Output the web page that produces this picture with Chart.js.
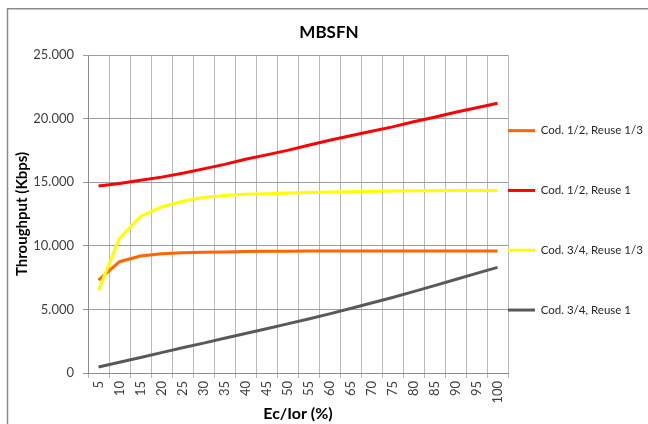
<!DOCTYPE html>
<html>
<head>
<meta charset="utf-8">
<title>MBSFN</title>
<script src="https://cdn.jsdelivr.net/npm/chart.js@4/dist/chart.umd.min.js"></script>
<style>
  html, body { margin: 0; padding: 0; background: #fff; }
  #wrap { width: 648px; height: 424px; }
</style>
</head>
<body>
<div id="wrap"><canvas id="mbsfnChart" width="648" height="424"></canvas></div>
<script>

// Ec/Ior (%) categories
var ecIor = ['5', '10', '15', '20', '25', '30', '35', '40', '45', '50',
             '55', '60', '65', '70', '75', '80', '85', '90', '95', '100'];

// throughput in Kbps
var cod12Reuse13 = [7300, 8750, 9200, 9380, 9460, 9500, 9520, 9550, 9570, 9580,
                    9590, 9590, 9600, 9600, 9600, 9600, 9600, 9600, 9600, 9600];
var cod12Reuse1 = [14700, 14900, 15150, 15400, 15700, 16050, 16400, 16800, 17150, 17500,
                   17900, 18300, 18650, 19000, 19350, 19750, 20100, 20500, 20850, 21200];
var cod34Reuse13 = [6500, 10600, 12300, 13050, 13500, 13800, 13950, 14050, 14100, 14150,
                    14200, 14220, 14240, 14260, 14300, 14320, 14330, 14340, 14350, 14350];
var cod34Reuse1 = [470, 850, 1220, 1600, 1980, 2350, 2730, 3110, 3480, 3860,
                   4250, 4650, 5070, 5500, 5940, 6400, 6870, 7350, 7830, 8300];

var seriesNames = ['Cod. 1/2, Reuse 1/3', 'Cod. 1/2, Reuse 1', 'Cod. 3/4, Reuse 1/3', 'Cod. 3/4, Reuse 1'];
var seriesColors = ['#ff6600', '#ff0000', '#ffff00', '#595959'];

var yMax = 25000;
var yStep = 5000;

var FONT = 'Lato, "Liberation Sans", sans-serif';
Chart.defaults.font.family = FONT;

function thousands(v) {
  return String(v).replace(/\B(?=(\d{3})+(?!\d))/g, '.');
}

function makeDataset(i, values) {
  return {
    label: seriesNames[i],
    data: values,
    borderColor: seriesColors[i],
    backgroundColor: seriesColors[i],
    borderWidth: 3,
    pointRadius: 0,
    pointBorderWidth: 3,
    tension: 0,
    // later series are painted on top
    order: 3 - i
  };
}

// grey frame around the whole chart
var framePlugin = {
  id: 'frame',
  beforeDraw: function(chart) {
    var ctx = chart.ctx;
    ctx.save();
    ctx.fillStyle = '#fff';
    ctx.fillRect(0, 0, chart.width, chart.height);
    ctx.strokeStyle = '#8a8a8a';
    ctx.lineWidth = 1.5;
    ctx.beginPath();
    ctx.moveTo(7.5, chart.height);
    ctx.lineTo(7.5, 8.75);
    ctx.lineTo(chart.width, 8.75);
    ctx.stroke();
    ctx.restore();
  }
};

var ctx = document.getElementById('mbsfnChart').getContext('2d');
var chart = new Chart(ctx, {
  type: 'line',
  data: {
    labels: ecIor,
    datasets: [
      makeDataset(0, cod12Reuse13),
      makeDataset(1, cod12Reuse1),
      makeDataset(2, cod34Reuse13),
      makeDataset(3, cod34Reuse1)
    ]
  },
  options: {
    responsive: false,
    animation: false,
    events: [],
    layout: { padding: { left: 10, top: 12, right: 0, bottom: 0 } },
    plugins: {
      title: {
        display: true,
        text: 'MBSFN',
        color: '#000',
        font: { family: FONT, size: 17, weight: 'bold' },
        padding: { top: 10.8, bottom: 11.8 }
      },
      legend: {
        position: 'right',
        align: 'start',
        maxWidth: 140,
        title: { display: true, text: '', padding: { top: 98.5, bottom: 0 } },
        labels: {
          usePointStyle: true,
          pointStyle: 'line',
          pointStyleWidth: 27,
          padding: 0,
          color: '#262626',
          font: { family: FONT, size: 11.5, lineHeight: '59.8px' },
          generateLabels: function(c) {
            var items = Chart.defaults.plugins.legend.labels.generateLabels(c);
            items.sort(function(a, b) { return a.datasetIndex - b.datasetIndex; });
            items.forEach(function(it) { it.text = [it.text]; });
            return items;
          }
        }
      },
      tooltip: { enabled: false }
    },
    scales: {
      x: {
        offset: true,
        grid: { offset: true, color: '#b8b8b8', tickLength: 5 },
        border: { color: '#8c8c8c' },
        ticks: {
          autoSkip: false,
          minRotation: 90,
          maxRotation: 90,
          padding: 3,
          color: '#404040',
          font: { family: FONT, size: 13 }
        },
        title: {
          display: true,
          text: 'Ec/Ior (%)',
          color: '#000',
          font: { family: FONT, size: 16, weight: 'bold' },
          padding: { top: 0, bottom: 1 }
        },
        afterFit: function(scale) { scale.height = 51; }
      },
      y: {
        min: 0,
        max: yMax,
        grid: { color: '#9c9c9c', tickLength: 5 },
        border: { color: '#8c8c8c' },
        ticks: {
          stepSize: yStep,
          padding: 9,
          color: '#404040',
          font: { family: FONT, size: 13 },
          callback: function(v) { return thousands(v); }
        },
        title: {
          display: true,
          text: 'Throughput (Kbps)',
          color: '#000',
          font: { family: FONT, size: 15, weight: 'bold' },
          padding: { top: 3, bottom: 4 }
        },
        afterFit: function(scale) { scale.width = 78; }
      }
    }
  },
  plugins: [framePlugin]
});

</script>
</body>
</html>
